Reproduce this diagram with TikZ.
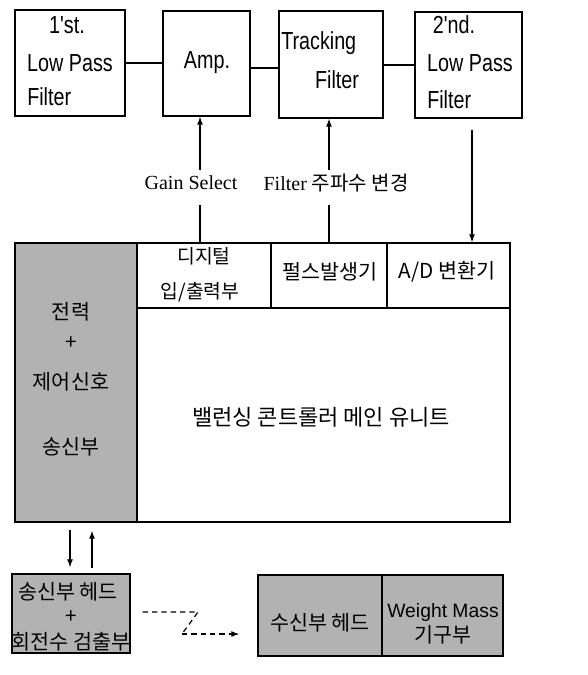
\documentclass[tikz,border=0pt]{standalone}
\usepackage{fontspec}
\setmainfont{Liberation Serif}
\newfontfamily\kr{Noto Sans CJK KR}
\newfontfamily\lat[FakeStretch=0.8]{Liberation Sans}
\newfontfamily\latw{Liberation Sans}
\usetikzlibrary{arrows.meta,calc}
\begin{document}
\begin{tikzpicture}[x=0.75pt,y=-0.75pt,
  box/.style={draw,line width=1pt,inner sep=0pt},
  shade/.style={box,fill=black!30},
  ltxt/.style={font=\lat\fontsize{18.5}{20}\selectfont,inner sep=0pt},
  ktxt/.style={font=\kr\fontsize{15.5}{17}\selectfont,inner sep=0pt},
  stxt/.style={font=\fontsize{15}{17}\selectfont,inner sep=0pt},
  conn/.style={line width=0.9pt},
  arr/.style={line width=0.9pt,-{Latex[length=6pt,width=4.5pt]}},
  darr/.style={line width=0.9pt,dashed,dash pattern=on 4pt off 3pt,-{Latex[length=6pt,width=4.5pt]}}
]
\useasboundingbox (0,0) rectangle (587,675);
% top boxes
\node[box,minimum width=110*0.75pt,minimum height=106*0.75pt] (lpf1) at (70,63) {};
\node[box,minimum width=87*0.75pt,minimum height=105*0.75pt] (amp) at (206.5,63.5) {};
\node[box,minimum width=104*0.75pt,minimum height=107*0.75pt] (trk) at (331,64.5) {};
\node[box,minimum width=107*0.75pt,minimum height=106*0.75pt] (lpf2) at (468.5,65) {};
\node[ltxt] (l1a) at (67,25) {1'st.};
\node[ltxt] (l1b) at (70,63) {Low Pass};
\node[ltxt,anchor=west] (l1c) at (27,97) {Filter};
\node[ltxt] (ampt) at (207,63) {Amp.};
\node[ltxt,anchor=west] (trka) at (281,43) {Tracking};
\node[ltxt] (trkb) at (337,80) {Filter};
\node[ltxt] (l2a) at (454,25) {2'nd.};
\node[ltxt] (l2b) at (470,63) {Low Pass};
\node[ltxt,anchor=west] (l2c) at (427,100) {Filter};
\draw[conn] (lpf1.east) -- (amp.west |- lpf1.east);
\draw[conn] (amp.east |- 0,68) -- (trk.west |- 0,68);
\draw[conn] (trk.east |- 0,65) -- (lpf2.west |- 0,65);
% main unit
\node[shade,minimum width=122*0.75pt,minimum height=279*0.75pt] (tx) at (76,382.5) {};
\node[box,minimum width=134*0.75pt,minimum height=65*0.75pt] (dio) at (204,275.5) {};
\node[box,minimum width=116*0.75pt,minimum height=65*0.75pt] (pulse) at (329,275.5) {};
\node[box,minimum width=123*0.75pt,minimum height=65*0.75pt] (adc) at (448.5,275.5) {};
\node[box,minimum width=373*0.75pt,minimum height=214*0.75pt] (main) at (323.5,415) {};
\node[ktxt,font=\kr\fontsize{14.5}{16}\selectfont] (dioa) at (204,256) {디지털};
\node[ktxt,font=\kr\fontsize{14.5}{16}\selectfont] (diob) at (200,292) {입/출력부};
\node[ktxt] (pulset) at (330,272) {펄스발생기};
\node[ktxt] (adct) at (447,272) {A/D 변환기};
\node[ktxt,font=\kr\fontsize{16.5}{18}\selectfont] (maint) at (321,417) {밸런싱 콘트롤러 메인 유니트};
\node[ktxt] (txa) at (71,312) {전력};
\node[ktxt] (txb) at (71,343) {+};
\node[ktxt] (txc) at (71,382) {제어신호};
\node[ktxt] (txd) at (71,447) {송신부};
% control labels and arrows
\node[stxt] (gain) at (191,183) {Gain Select};
\node[stxt] (filt) at (336,183) {Filter {\kr\fontsize{15}{16}\selectfont 주파수 변경}};
\coordinate (ga) at (200,205);
\coordinate (fa) at (329,205);
\draw[conn] (dio.north -| ga) -- (ga);
\draw[arr] ($(ga)+(0,-35)$) -- (amp.south -| ga);
\draw[conn] (pulse.north -| fa) -- (fa);
\draw[arr] ($(fa)+(0,-35)$) -- (trk.south -| fa);
\coordinate (da) at (472,130);
\draw[arr] (da) -- (adc.north -| da);
% bottom
\node[shade,minimum width=118*0.75pt,minimum height=79*0.75pt] (hd) at (71,613.5) {};
\node[shade,minimum width=124*0.75pt,minimum height=81*0.75pt] (rx) at (320,615.5) {};
\node[shade,minimum width=121*0.75pt,minimum height=81*0.75pt] (wm) at (442.5,615.5) {};
\node[ktxt] (hda) at (68,592) {송신부 헤드};
\node[ktxt] (hdb) at (71,617) {+};
\node[ktxt] (hdc) at (71,642) {회전수 검출부};
\node[ktxt] (rxt) at (320,623) {수신부 헤드};
\node[inner sep=0pt,font=\latw\fontsize{14.5}{15}\selectfont] (wma) at (443,612) {Weight Mass};
\node[ktxt] (wmb) at (443,635) {기구부};
\coordinate (d1) at (70,530);
\coordinate (u1) at (92,568);
\draw[arr] (d1) -- ($(hd.north -| d1)+(0,-6)$);
\draw[arr] (u1) -- ($(tx.south -| u1)+(0,8)$);
\coordinate (z1) at ($(hd.east)+(12,-1.5)$);
\coordinate (z2) at (198,612);
\coordinate (z3) at (182,634);
\draw[line width=0.9pt,dash pattern=on 4pt off 3pt] (z1) -- (z2) -- (z3);
\draw[darr] (z3) -- ($(rx.west |- z3)+(-18,0)$);
\end{tikzpicture}
\end{document}
